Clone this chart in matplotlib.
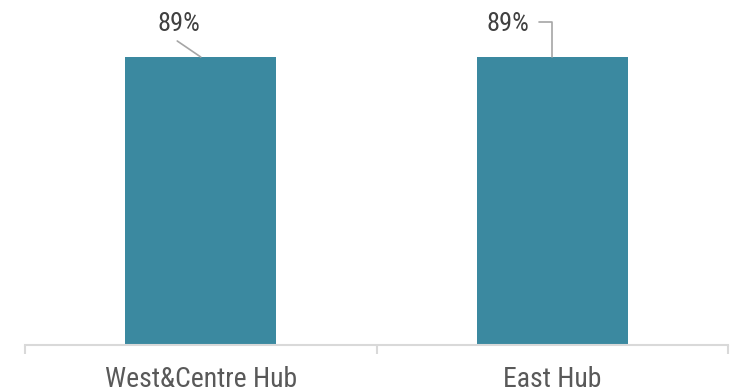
import matplotlib
matplotlib.use("Agg")
import matplotlib.pyplot as plt
import numpy as np

# share of target reached per hub
hubs = ["West&Centre Hub", "East Hub"]
share = [0.89, 0.89]
share_labels = ["89%", "89%"]

BAR = "#3b89a0"
AXIS = "#d9d9d9"
LEADER = "#a6a6a6"

fig = plt.figure(figsize=(7.45, 3.92), dpi=100)
ax = fig.add_axes([25 / 745, 47 / 392, 703 / 745, 323.6 / 392])

x = np.arange(len(hubs))
bars = ax.bar(x, share, width=0.43, color=BAR, zorder=2)

ax.set_xlim(-0.5, len(hubs) - 0.5)
ax.set_ylim(0, 1.0)

for s in ["top", "right", "left"]:
    ax.spines[s].set_visible(False)
ax.spines["bottom"].set_color(AXIS)
ax.spines["bottom"].set_linewidth(1.5)
ax.set_yticks([])

# category names under the bars, separators between categories
ax.set_xticks(x)
ax.set_xticklabels(hubs, family="Roboto Condensed", fontsize=20,
                   color="#595959")
ax.tick_params(axis="x", which="major", length=0, pad=15)
ax.set_xticks(np.arange(len(hubs) + 1) - 0.5, minor=True)
ax.tick_params(axis="x", which="minor", length=6.5, width=1.5,
               color=AXIS, direction="out")

# value labels with leader lines (offsets in pixels from the bar top)
text_off = [(-21.5, 26), (-44, 26)]
leader_start = [(-23.5, 16), (-13.5, 34.5)]
leader_style = ["arc3,rad=0", "angle,angleA=0,angleB=90,rad=0"]
for i, (xi, v) in enumerate(zip(x, share)):
    ax.annotate(share_labels[i], xy=(xi, v), xytext=text_off[i],
                textcoords="offset pixels", ha="center", va="baseline",
                family="Roboto Condensed", fontsize=19, color="#404040")
    ax.annotate("", xy=(xi, v), xytext=leader_start[i],
                textcoords="offset pixels",
                arrowprops=dict(arrowstyle="-", color=LEADER, lw=1.2,
                                shrinkA=0, shrinkB=0,
                                connectionstyle=leader_style[i]))

fig.savefig("out.png", dpi=100)
